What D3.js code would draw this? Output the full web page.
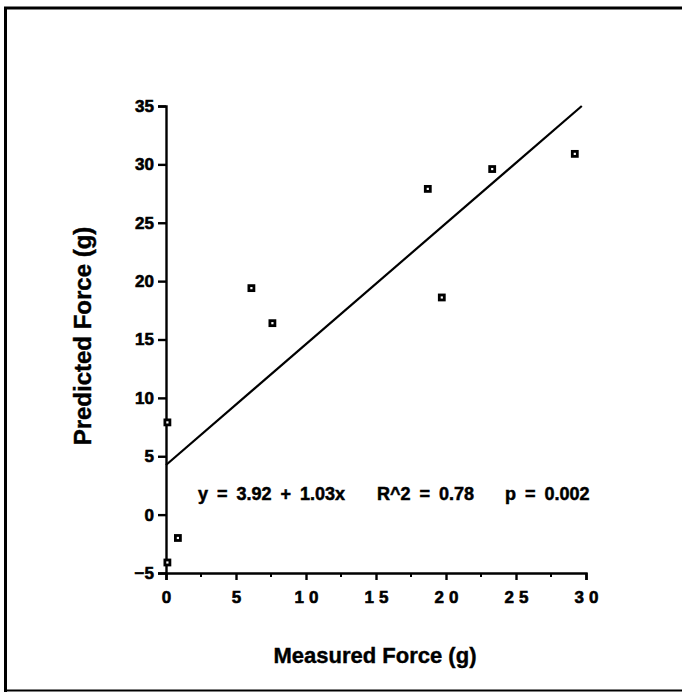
<!DOCTYPE html>
<html>
<head>
<meta charset="utf-8">
<script src="https://cdn.jsdelivr.net/npm/d3@7/dist/d3.min.js"></script>
<style>
  html, body { margin: 0; padding: 0; background: #fff; }
  svg { display: block; font-family: "Liberation Sans", Arial, sans-serif; font-weight: bold; }
</style>
</head>
<body>
<svg id="chart" width="682" height="693"></svg>
<script>
// measured vs predicted force (g)
var measured = [0.1, 0.1, 0.85, 6.1, 7.6, 18.7, 19.7, 23.3, 29.2];
var predicted = [7.9, -4.1, -2.0, 19.4, 16.4, 27.9, 18.6, 29.6, 30.9];
var fitX = [0, 29.7];
var fitY = [4.25, 35.0];
var xTicks = [0, 5, 10, 15, 20, 25, 30];
var xMinorTicks = [2.5, 7.5, 12.5, 17.5, 22.5, 27.5];
var yTicks = [-5, 0, 5, 10, 15, 20, 25, 30, 35];
var fitParts = ['y = 3.92 + 1.03x', 'R^2 = 0.78', 'p = 0.002'];
var fitPartX = [198, 377, 505];

var svg = d3.select('#chart');
var ink = '#000';
var fontStack = '"Liberation Sans", Arial, sans-serif';

// outer frame (left, top, bottom edges)
svg.append('path')
  .attr('d', 'M5.5,692 L5.5,8 L682,8')
  .attr('fill', 'none').attr('stroke', ink).attr('stroke-width', 3);
svg.append('line')
  .attr('x1', 4).attr('x2', 682).attr('y1', 690.5).attr('y2', 690.5)
  .attr('stroke', ink).attr('stroke-width', 2);

var x = d3.scaleLinear().domain([0, 30]).range([166, 586]);
var y = d3.scaleLinear().domain([-5, 35]).range([573, 106]);

// x axis
var xAxis = svg.append('g').attr('transform', 'translate(0,' + y(-5) + ')');
xAxis.call(d3.axisBottom(x).tickValues(xTicks).tickSize(7).tickPadding(11));
xAxis.selectAll('.tick text')
  .style('letter-spacing', '5px')
  .attr('dx', '2.5px');
xAxis.append('g').selectAll('line').data(xMinorTicks).join('line')
  .attr('x1', x).attr('x2', x).attr('y1', 0).attr('y2', 4)
  .attr('stroke', ink).attr('stroke-width', 2);

// y axis
var yAxis = svg.append('g').attr('transform', 'translate(' + x(0) + ',0)');
yAxis.call(d3.axisLeft(y).tickValues(yTicks).tickSize(8).tickPadding(4));

svg.selectAll('.domain').attr('stroke', ink).attr('stroke-width', 2.4);
svg.selectAll('.tick line').attr('stroke', ink).attr('stroke-width', 2.4);
svg.selectAll('.tick text')
  .attr('fill', ink)
  .attr('stroke', ink)
  .attr('stroke-width', 0.6)
  .style('font-size', '17px')
  .style('font-weight', 'bold')
  .style('font-family', fontStack);

// regression line
svg.append('line')
  .attr('x1', x(fitX[0])).attr('y1', y(fitY[0]))
  .attr('x2', x(fitX[1])).attr('y2', y(fitY[1]))
  .attr('stroke', ink).attr('stroke-width', 2.2);

// points
svg.append('g').selectAll('rect').data(measured).join('rect')
  .attr('x', function (d) { return x(d) - 2.5; })
  .attr('y', function (d, i) { return y(predicted[i]) - 2.5; })
  .attr('width', 5).attr('height', 5)
  .attr('fill', '#fff').attr('stroke', ink).attr('stroke-width', 2.8);

// fit annotation
svg.append('g').selectAll('text').data(fitParts).join('text')
  .attr('x', function (d, i) { return fitPartX[i]; })
  .attr('y', 500)
  .attr('font-size', 18)
  .attr('stroke', ink).attr('stroke-width', 0.5)
  .style('word-spacing', '4px')
  .text(function (d) { return d; });

// axis titles
svg.append('text')
  .attr('x', 375).attr('y', 663)
  .attr('text-anchor', 'middle')
  .attr('font-size', 22)
  .attr('stroke', ink).attr('stroke-width', 0.4)
  .text('Measured Force (g)');

svg.append('text')
  .attr('transform', 'translate(91,336) rotate(-90)')
  .attr('text-anchor', 'middle')
  .attr('font-size', 24)
  .attr('stroke', ink).attr('stroke-width', 0.4)
  .text('Predicted Force (g)');
</script>
</body>
</html>
